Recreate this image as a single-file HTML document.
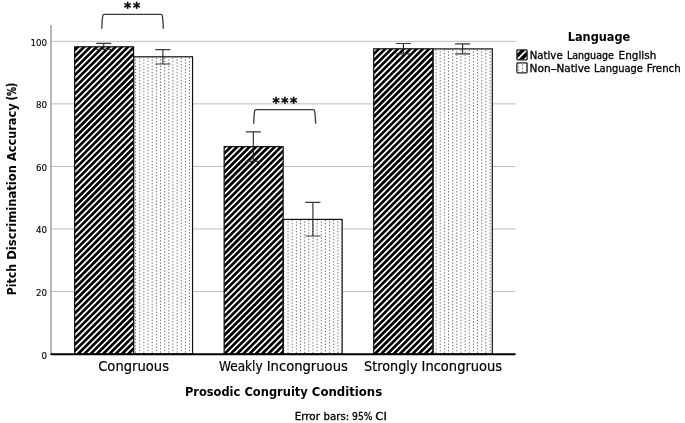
<!DOCTYPE html>
<html lang="en"><head><meta charset="utf-8"><title>Pitch Discrimination Accuracy</title>
<style>
html,body{margin:0;padding:0;background:#fff;}
body{width:685px;height:423px;overflow:hidden;}
svg{display:block;will-change:transform;}
text{font-family:"DejaVu Sans", "Liberation Sans", sans-serif;fill:#000;stroke:#000;}
.b{font-weight:bold;stroke-width:0;}
</style></head><body>
<svg width="685" height="423" viewBox="0 0 685 423">
<defs>

<clipPath id="h0"><rect x="74.65" y="46.80" width="58.95" height="307.30"/></clipPath>
<clipPath id="h1"><rect x="224.15" y="146.65" width="59.0" height="207.45"/></clipPath>
<clipPath id="h2"><rect x="373.70" y="48.80" width="59.3" height="305.30"/></clipPath>
<clipPath id="d0"><rect x="133.60" y="56.80" width="58.95" height="297.30"/></clipPath>
<clipPath id="d1"><rect x="283.15" y="219.40" width="59.0" height="134.70"/></clipPath>
<clipPath id="d2"><rect x="433.00" y="48.90" width="59.3" height="305.20"/></clipPath>
<clipPath id="d3"><rect x="516.9" y="62.9" width="10.2" height="10"/></clipPath>
<clipPath id="h3"><rect x="516.9" y="49.9" width="10.2" height="10"/></clipPath>
</defs>
<rect x="0" y="0" width="685" height="423" fill="#fff"/>
<line x1="51.5" x2="515.6" y1="291.55" y2="291.55" stroke="#bcbcbc" stroke-width="1"/>
<line x1="51.5" x2="515.6" y1="229.00" y2="229.00" stroke="#bcbcbc" stroke-width="1"/>
<line x1="51.5" x2="515.6" y1="166.44" y2="166.44" stroke="#bcbcbc" stroke-width="1"/>
<line x1="51.5" x2="515.6" y1="103.89" y2="103.89" stroke="#bcbcbc" stroke-width="1"/>
<line x1="51.5" x2="515.6" y1="41.34" y2="41.34" stroke="#bcbcbc" stroke-width="1"/>
<line x1="51.0" x2="51.0" y1="25" y2="355" stroke="#999" stroke-width="1.4"/>
<text x="47.1" y="359.20" font-size="8.7" stroke-width="0.12" text-anchor="end">0</text>
<text x="47.1" y="295.85" font-size="8.7" stroke-width="0.12" text-anchor="end">20</text>
<text x="47.1" y="233.30" font-size="8.7" stroke-width="0.12" text-anchor="end">40</text>
<text x="47.1" y="170.74" font-size="8.7" stroke-width="0.12" text-anchor="end">60</text>
<text x="47.1" y="108.19" font-size="8.7" stroke-width="0.12" text-anchor="end">80</text>
<text x="47.1" y="45.64" font-size="8.7" stroke-width="0.12" text-anchor="end">100</text>
<rect x="74.65" y="46.80" width="58.95" height="307.30" fill="#000"/>
<rect x="224.15" y="146.65" width="59.0" height="207.45" fill="#000"/>
<rect x="373.70" y="48.80" width="59.3" height="305.30" fill="#000"/>
<rect x="516.9" y="49.9" width="10.2" height="10" fill="#000"/>
<path clip-path="url(#h0)" d="M-233.50 355.10L75.80 45.80M-227.23 355.10L82.07 45.80M-220.96 355.10L88.34 45.80M-214.69 355.10L94.61 45.80M-208.42 355.10L100.88 45.80M-202.15 355.10L107.15 45.80M-195.88 355.10L113.42 45.80M-189.61 355.10L119.69 45.80M-183.34 355.10L125.96 45.80M-177.07 355.10L132.23 45.80M-170.80 355.10L138.50 45.80M-164.53 355.10L144.77 45.80M-158.26 355.10L151.04 45.80M-151.99 355.10L157.31 45.80M-145.72 355.10L163.58 45.80M-139.45 355.10L169.85 45.80M-133.18 355.10L176.12 45.80M-126.91 355.10L182.39 45.80M-120.64 355.10L188.66 45.80M-114.37 355.10L194.93 45.80M-108.10 355.10L201.20 45.80M-101.83 355.10L207.47 45.80M-95.56 355.10L213.74 45.80M-89.29 355.10L220.01 45.80M-83.02 355.10L226.28 45.80M-76.75 355.10L232.55 45.80M-70.48 355.10L238.82 45.80M-64.21 355.10L245.09 45.80M-57.94 355.10L251.36 45.80M-51.67 355.10L257.63 45.80M-45.40 355.10L263.90 45.80M-39.13 355.10L270.17 45.80M-32.86 355.10L276.44 45.80M-26.59 355.10L282.71 45.80M-20.32 355.10L288.98 45.80M-14.05 355.10L295.25 45.80M-7.78 355.10L301.52 45.80M-1.51 355.10L307.79 45.80M4.76 355.10L314.06 45.80M11.03 355.10L320.33 45.80M17.30 355.10L326.60 45.80M23.57 355.10L332.87 45.80M29.84 355.10L339.14 45.80M36.11 355.10L345.41 45.80M42.38 355.10L351.68 45.80M48.65 355.10L357.95 45.80M54.92 355.10L364.22 45.80M61.19 355.10L370.49 45.80M67.46 355.10L376.76 45.80M73.73 355.10L383.03 45.80M80.00 355.10L389.30 45.80M86.27 355.10L395.57 45.80M92.54 355.10L401.84 45.80M98.81 355.10L408.11 45.80M105.08 355.10L414.38 45.80M111.35 355.10L420.65 45.80M117.62 355.10L426.92 45.80M123.89 355.10L433.19 45.80M130.16 355.10L439.46 45.80" stroke="#fff" stroke-width="1.72" fill="none"/>
<path clip-path="url(#h1)" d="M19.43 355.10L228.88 145.65M25.70 355.10L235.15 145.65M31.97 355.10L241.42 145.65M38.24 355.10L247.69 145.65M44.51 355.10L253.96 145.65M50.78 355.10L260.23 145.65M57.05 355.10L266.50 145.65M63.32 355.10L272.77 145.65M69.59 355.10L279.04 145.65M75.86 355.10L285.31 145.65M82.13 355.10L291.58 145.65M88.40 355.10L297.85 145.65M94.67 355.10L304.12 145.65M100.94 355.10L310.39 145.65M107.21 355.10L316.66 145.65M113.48 355.10L322.93 145.65M119.75 355.10L329.20 145.65M126.02 355.10L335.47 145.65M132.29 355.10L341.74 145.65M138.56 355.10L348.01 145.65M144.83 355.10L354.28 145.65M151.10 355.10L360.55 145.65M157.37 355.10L366.82 145.65M163.64 355.10L373.09 145.65M169.91 355.10L379.36 145.65M176.18 355.10L385.63 145.65M182.45 355.10L391.90 145.65M188.72 355.10L398.17 145.65M194.99 355.10L404.44 145.65M201.26 355.10L410.71 145.65M207.53 355.10L416.98 145.65M213.80 355.10L423.25 145.65M220.07 355.10L429.52 145.65M226.34 355.10L435.79 145.65M232.61 355.10L442.06 145.65M238.88 355.10L448.33 145.65M245.15 355.10L454.60 145.65M251.42 355.10L460.87 145.65M257.69 355.10L467.14 145.65M263.96 355.10L473.41 145.65M270.23 355.10L479.68 145.65M276.50 355.10L485.95 145.65M282.77 355.10L492.22 145.65" stroke="#fff" stroke-width="1.72" fill="none"/>
<path clip-path="url(#h2)" d="M69.59 355.10L376.89 47.80M75.86 355.10L383.16 47.80M82.13 355.10L389.43 47.80M88.40 355.10L395.70 47.80M94.67 355.10L401.97 47.80M100.94 355.10L408.24 47.80M107.21 355.10L414.51 47.80M113.48 355.10L420.78 47.80M119.75 355.10L427.05 47.80M126.02 355.10L433.32 47.80M132.29 355.10L439.59 47.80M138.56 355.10L445.86 47.80M144.83 355.10L452.13 47.80M151.10 355.10L458.40 47.80M157.37 355.10L464.67 47.80M163.64 355.10L470.94 47.80M169.91 355.10L477.21 47.80M176.18 355.10L483.48 47.80M182.45 355.10L489.75 47.80M188.72 355.10L496.02 47.80M194.99 355.10L502.29 47.80M201.26 355.10L508.56 47.80M207.53 355.10L514.83 47.80M213.80 355.10L521.10 47.80M220.07 355.10L527.37 47.80M226.34 355.10L533.64 47.80M232.61 355.10L539.91 47.80M238.88 355.10L546.18 47.80M245.15 355.10L552.45 47.80M251.42 355.10L558.72 47.80M257.69 355.10L564.99 47.80M263.96 355.10L571.26 47.80M270.23 355.10L577.53 47.80M276.50 355.10L583.80 47.80M282.77 355.10L590.07 47.80M289.04 355.10L596.34 47.80M295.31 355.10L602.61 47.80M301.58 355.10L608.88 47.80M307.85 355.10L615.15 47.80M314.12 355.10L621.42 47.80M320.39 355.10L627.69 47.80M326.66 355.10L633.96 47.80M332.93 355.10L640.23 47.80M339.20 355.10L646.50 47.80M345.47 355.10L652.77 47.80M351.74 355.10L659.04 47.80M358.01 355.10L665.31 47.80M364.28 355.10L671.58 47.80M370.55 355.10L677.85 47.80M376.82 355.10L684.12 47.80M383.09 355.10L690.39 47.80M389.36 355.10L696.66 47.80M395.63 355.10L702.93 47.80M401.90 355.10L709.20 47.80M408.17 355.10L715.47 47.80M414.44 355.10L721.74 47.80M420.71 355.10L728.01 47.80M426.98 355.10L734.28 47.80M433.25 355.10L740.55 47.80" stroke="#fff" stroke-width="1.72" fill="none"/>
<path clip-path="url(#h3)" d="M508.60 60.90L520.60 48.90M515.90 60.90L527.90 48.90M523.20 60.90L535.20 48.90" stroke="#fff" stroke-width="1.72" fill="none"/>
<rect x="133.60" y="56.80" width="58.95" height="297.30" fill="#fff"/>
<path clip-path="url(#d0)" d="M135.58 52.84V355.10M139.74 54.43V355.10M143.89 52.84V355.10M148.05 54.43V355.10M152.20 52.84V355.10M156.35 54.43V355.10M160.51 52.84V355.10M164.66 54.43V355.10M168.82 52.84V355.10M172.97 54.43V355.10M177.12 52.84V355.10M181.28 54.43V355.10M185.43 52.84V355.10M189.59 54.43V355.10" stroke="#6a6a6a" stroke-width="1" stroke-dasharray="1.3 1.876" fill="none"/>
<rect x="133.60" y="56.80" width="58.95" height="297.30" fill="none" stroke="#111" stroke-width="1.2"/>
<rect x="74.65" y="46.80" width="58.95" height="307.30" fill="none" stroke="#111" stroke-width="1.2"/>
<path d="M103.75 43.40V49.30" stroke="#222" stroke-width="1.1" fill="none"/>
<path d="M96.25 43.40h15M96.25 49.30h15" stroke="#383838" stroke-width="1.15" fill="none"/>
<path d="M162.90 49.55V64.00" stroke="#222" stroke-width="1.1" fill="none"/>
<path d="M155.40 49.55h15M155.40 64.00h15" stroke="#383838" stroke-width="1.15" fill="none"/>
<rect x="283.15" y="219.40" width="59.0" height="134.70" fill="#fff"/>
<path clip-path="url(#d1)" d="M283.89 216.69V355.10M288.04 215.10V355.10M292.20 216.69V355.10M296.35 215.10V355.10M300.50 216.69V355.10M304.66 215.10V355.10M308.81 216.69V355.10M312.97 215.10V355.10M317.12 216.69V355.10M321.27 215.10V355.10M325.43 216.69V355.10M329.58 215.10V355.10M333.74 216.69V355.10M337.89 215.10V355.10M342.04 216.69V355.10" stroke="#6a6a6a" stroke-width="1" stroke-dasharray="1.3 1.876" fill="none"/>
<rect x="283.15" y="219.40" width="59.0" height="134.70" fill="none" stroke="#111" stroke-width="1.2"/>
<rect x="224.15" y="146.65" width="59.0" height="207.45" fill="none" stroke="#111" stroke-width="1.2"/>
<path d="M253.30 131.80V161.30" stroke="#222" stroke-width="1.1" fill="none"/>
<path d="M245.80 131.80h15M245.80 161.30h15" stroke="#383838" stroke-width="1.15" fill="none"/>
<path d="M312.90 202.40V236.00" stroke="#222" stroke-width="1.1" fill="none"/>
<path d="M305.40 202.40h15M305.40 236.00h15" stroke="#383838" stroke-width="1.15" fill="none"/>
<rect x="433.00" y="48.90" width="59.3" height="305.20" fill="#fff"/>
<path clip-path="url(#d2)" d="M436.05 46.66V355.10M440.20 45.07V355.10M444.36 46.66V355.10M448.51 45.07V355.10M452.66 46.66V355.10M456.82 45.07V355.10M460.97 46.66V355.10M465.13 45.07V355.10M469.28 46.66V355.10M473.43 45.07V355.10M477.59 46.66V355.10M481.74 45.07V355.10M485.90 46.66V355.10M490.05 45.07V355.10" stroke="#6a6a6a" stroke-width="1" stroke-dasharray="1.3 1.876" fill="none"/>
<rect x="433.00" y="48.90" width="59.3" height="305.20" fill="none" stroke="#111" stroke-width="1.2"/>
<rect x="373.70" y="48.80" width="59.3" height="305.30" fill="none" stroke="#111" stroke-width="1.2"/>
<path d="M403.40 43.50V53.80" stroke="#222" stroke-width="1.1" fill="none"/>
<path d="M395.90 43.50h15M395.90 53.80h15" stroke="#383838" stroke-width="1.15" fill="none"/>
<path d="M462.60 43.90V53.80" stroke="#222" stroke-width="1.1" fill="none"/>
<path d="M455.10 43.90h15M455.10 53.80h15" stroke="#383838" stroke-width="1.15" fill="none"/>
<path d="M51.5 354.25H514.7" stroke="#000" stroke-width="2.2" stroke-linecap="round" fill="none"/>
<path d="M101.80 28.70C101.90 23.70 102.20 19.45 102.70 16.05Q102.90 14.45 104.40 14.45H160.70Q162.20 14.45 162.40 16.05C162.90 19.45 163.20 23.70 163.30 28.70" stroke="#3a3a3a" stroke-width="1.3" fill="none"/>
<path d="M253.70 123.70C253.80 118.70 254.10 114.55 254.60 111.15Q254.80 109.55 256.30 109.55H313.00Q314.50 109.55 314.70 111.15C315.20 114.55 315.50 118.70 315.60 123.70" stroke="#3a3a3a" stroke-width="1.3" fill="none"/>
<text class="b" style="stroke-width:0.45px" x="124.0" y="12.2" font-size="13.8" letter-spacing="1.7">**</text>
<text class="b" style="stroke-width:0.45px" x="272.5" y="106.9" font-size="13.8" letter-spacing="1.5">***</text>
<text stroke-width="0.2" y="370.7" font-size="14"><tspan x="98.20" textLength="70.87" lengthAdjust="spacingAndGlyphs">Congruous</tspan></text>
<text stroke-width="0.2" y="370.7" font-size="14"><tspan x="218.91" textLength="43.73" lengthAdjust="spacingAndGlyphs">Weakly</tspan> <tspan x="266.71" textLength="81.13" lengthAdjust="spacingAndGlyphs">Incongruous</tspan></text>
<text stroke-width="0.2" y="370.7" font-size="14"><tspan x="364.10" textLength="53.40" lengthAdjust="spacingAndGlyphs">Strongly</tspan> <tspan x="421.57" textLength="80.58" lengthAdjust="spacingAndGlyphs">Incongruous</tspan></text>
<text class="b" y="395.9" font-size="13"><tspan x="184.92" textLength="55.40" lengthAdjust="spacingAndGlyphs">Prosodic</tspan> <tspan x="244.45" textLength="63.36" lengthAdjust="spacingAndGlyphs">Congruity</tspan> <tspan x="311.82" textLength="70.29" lengthAdjust="spacingAndGlyphs">Conditions</tspan></text>
<text stroke-width="0.3" y="419.9" font-size="10"><tspan x="294.69" textLength="25.26" lengthAdjust="spacingAndGlyphs">Error</tspan> <tspan x="323.60" textLength="25.68" lengthAdjust="spacingAndGlyphs">bars:</tspan> <tspan x="352.11" textLength="20.53" lengthAdjust="spacingAndGlyphs">95%</tspan> <tspan x="375.30" textLength="11.58" lengthAdjust="spacingAndGlyphs">CI</tspan></text>
<text class="b" transform="translate(16.0 294.3) rotate(-90)" y="0" font-size="13"><tspan x="-0.91" textLength="31.21" lengthAdjust="spacingAndGlyphs">Pitch</tspan> <tspan x="34.51" textLength="94.76" lengthAdjust="spacingAndGlyphs">Discrimination</tspan> <tspan x="133.43" textLength="57.39" lengthAdjust="spacingAndGlyphs">Accuracy</tspan> <tspan style="stroke-width:0.35px" x="194.10" textLength="17.30" lengthAdjust="spacingAndGlyphs">(%)</tspan></text>
<text class="b" y="41.1" font-size="13"><tspan x="567.69" textLength="62.62" lengthAdjust="spacingAndGlyphs">Language</tspan></text>
<rect x="516.9" y="49.9" width="10.2" height="10" fill="none" stroke="#262626" stroke-width="1.3" rx="0.8"/>
<rect x="516.9" y="62.9" width="10.2" height="10" fill="#fff"/>
<path clip-path="url(#d3)" d="M518.30 59.69V73.90M522.45 58.10V73.90M526.60 59.69V73.90" stroke="#6a6a6a" stroke-width="1" stroke-dasharray="1.3 1.876" fill="none"/>
<rect x="516.9" y="62.9" width="10.2" height="10" fill="none" stroke="#262626" stroke-width="1.3" rx="0.8"/>
<text stroke-width="0.3" y="58.9" font-size="10"><tspan x="529.76" textLength="32.89" lengthAdjust="spacingAndGlyphs">Native</tspan> <tspan x="566.90" textLength="47.01" lengthAdjust="spacingAndGlyphs">Language</tspan> <tspan x="618.58" textLength="37.68" lengthAdjust="spacingAndGlyphs">English</tspan></text>
<text stroke-width="0.3" y="72.4" font-size="10"><tspan x="529.55" textLength="21.15" lengthAdjust="spacingAndGlyphs">Non</tspan><tspan x="550.45" textLength="6.63" lengthAdjust="spacingAndGlyphs">-</tspan><tspan x="556.45" textLength="33.81" lengthAdjust="spacingAndGlyphs">Native</tspan> <tspan x="594.08" textLength="48.80" lengthAdjust="spacingAndGlyphs">Language</tspan> <tspan x="646.75" textLength="33.95" lengthAdjust="spacingAndGlyphs">French</tspan></text>
</svg></body></html>
